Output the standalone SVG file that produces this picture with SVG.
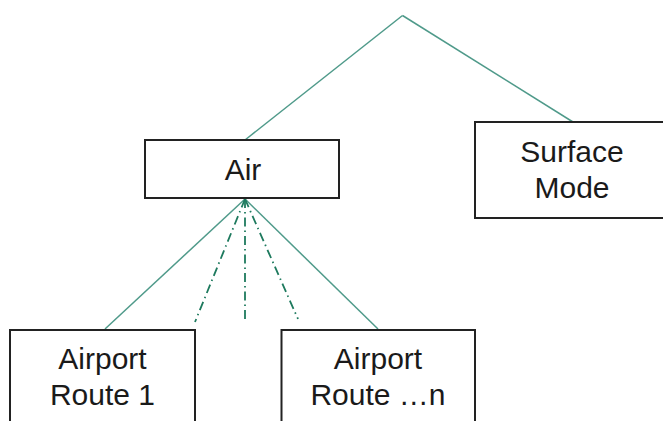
<svg xmlns="http://www.w3.org/2000/svg" width="663" height="421" viewBox="0 0 663 421">
<style>
.box{fill:#ffffff;stroke:#222222;stroke-width:2}
.lbl{font-family:"Liberation Sans",Arial,sans-serif;font-size:30px;fill:#1a1a1a;text-anchor:middle}
.solid{stroke:#4f9a8a;stroke-width:1.5;fill:none}
.dd{stroke:#1e7a5e;stroke-width:1.8;fill:none;stroke-dasharray:9 4 1.5 4}
</style>
<rect width="663" height="421" fill="#ffffff"/>
<g id="connectors">
<line class="solid" x1="402.5" y1="15.5" x2="245" y2="140"/>
<line class="solid" x1="402.5" y1="15.5" x2="573" y2="122"/>
<line class="solid" x1="245" y1="199" x2="105" y2="329"/>
<line class="solid" x1="245" y1="199" x2="378" y2="329"/>
<line class="dd" x1="245" y1="199" x2="195" y2="322"/>
<line class="dd" x1="245" y1="199" x2="245" y2="322"/>
<line class="dd" x1="245" y1="199" x2="298" y2="319"/>
</g>
<g id="node-air">
<rect class="box" x="145" y="140" width="194" height="58"/>
<text class="lbl" x="243" y="180">Air</text>
</g>
<g id="node-surface">
<rect class="box" x="475" y="122" width="200" height="96"/>
<text class="lbl" x="572" y="162">Surface</text>
<text class="lbl" x="572" y="198">Mode</text>
</g>
<g id="node-route1">
<rect class="box" x="10" y="330" width="185" height="110"/>
<text class="lbl" x="102.5" y="369">Airport</text>
<text class="lbl" x="102.5" y="405">Route 1</text>
</g>
<g id="node-routen">
<rect class="box" x="281.5" y="330" width="193.5" height="110"/>
<text class="lbl" x="378" y="369">Airport</text>
<text class="lbl" x="378" y="405">Route …n</text>
</g>
</svg>
